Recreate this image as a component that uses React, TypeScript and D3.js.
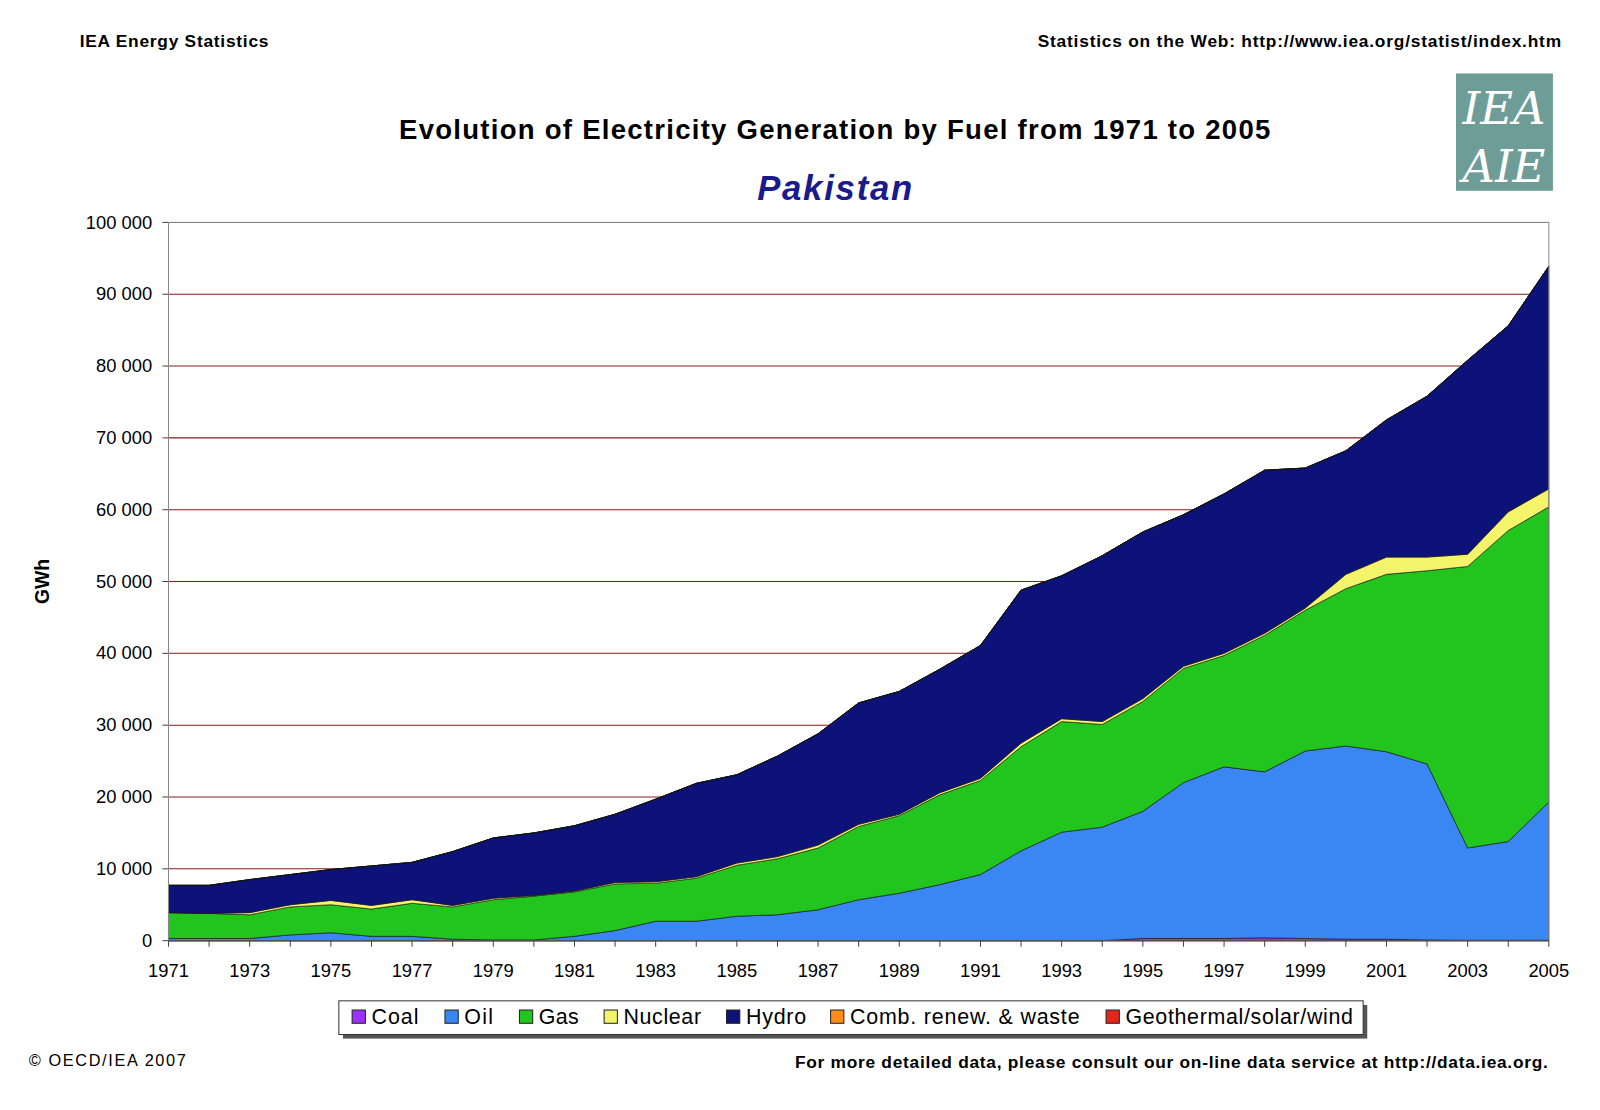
import React from "react";
import * as d3 from "d3";

const years = d3.range(1971, 2006);
const coal = [0,0,0,0,0,0,0,0,0,0,0,0,0,0,0,0,0,0,0,0,0,0,0,0,300,300,300,400,300,200,200,100,50,50,50];
const oil = [300,300,300,800,1100,600,600,200,100,100,600,1400,2700,2700,3400,3600,4300,5700,6600,7800,9200,12500,15100,15800,17700,21700,23900,23100,26100,26900,26100,24500,12850,13750,19250];
const gas = [3600,3500,3300,3900,3900,3800,4600,4500,5600,6100,6200,6500,5300,6000,7100,7800,8600,10200,10800,12500,13100,14500,15400,14300,15300,15900,15500,19000,19600,21900,24700,26900,39200,43300,41100];
const nuclear = [0,0,300,300,600,500,500,200,200,100,100,200,200,200,300,300,400,300,200,300,300,500,400,400,400,300,300,300,300,2000,2400,1900,1700,2600,2500];
const hydro = [3800,3900,4600,4200,4300,5500,5200,7500,8400,8700,9100,9500,11500,13000,12300,14000,15500,16900,17100,17200,18500,21300,19900,23100,23200,21100,22200,22700,19500,17200,19100,22400,27000,25900,31000];
const combRenew = years.map(() => 0);
const geoSolarWind = years.map(() => 0);

const seriesNames = ["Coal", "Oil", "Gas", "Nuclear", "Hydro", "Comb. renew. & waste", "Geothermal/solar/wind"];
const seriesValues = [coal, oil, gas, nuclear, hydro, combRenew, geoSolarWind];
const colors = ["#9b30ff", "#3a86f2", "#22c41e", "#f4f46a", "#0d1278", "#ff8c1a", "#e5261b"];
const yTicks = d3.range(0, 100001, 10000);
const xTicks = d3.range(1971, 2006, 2);

export default function App() {
  const W = 1600, H = 1110;
  const left = 165, right = 1518, top = 218, bottom = 922;
  const x = d3.scaleLinear().domain([1971, 2005]).range([left, right]);
  const y = d3.scaleLinear().domain([0, 100000]).range([bottom, top]);
  const table = years.map((yr, i) => {
    const row: any = { year: yr };
    seriesNames.forEach((n, k) => (row[n] = seriesValues[k][i]));
    return row;
  });
  const stacked = d3.stack<any>().keys(seriesNames)(table);
  const area = d3.area<any>().x(d => x(d.data.year)).y0(d => y(d[0])).y1(d => y(d[1]));
  const fmt = (v: number) => (v >= 1000 ? `${Math.floor(v / 1000)} ${String(v % 1000).padStart(3, "0")}` : String(v));
  const font = "Liberation Sans, Arial, sans-serif";
  const legendX = [345, 436, 509, 592, 712, 814, 1084];
  const legendW = [46, 28, 39, 76, 59, 225, 223];
  return (
    <svg width={W} height={H} viewBox="0 0 1568 1088" style={{ display: "block", margin: -8 }} fontFamily={font}>
      <rect width={1568} height={1088} fill="#fff" />
      <text x={78} y={46} fontSize={17} fontWeight="bold" textLength={185}>IEA Energy Statistics</text>
      <text x={1017} y={46} fontSize={17} fontWeight="bold" textLength={513}>Statistics on the Web: http://www.iea.org/statist/index.htm</text>
      <text x={818} y={136} fontSize={27} fontWeight="bold" textAnchor="middle" textLength={854}>Evolution of Electricity Generation by Fuel from 1971 to 2005</text>
      <text x={818} y={196} fontSize={34} fontWeight="bold" fontStyle="italic" fill="#1a1a8c" textAnchor="middle" textLength={152}>Pakistan</text>
      <g>
        <rect x={1427} y={72} width={95} height={115} fill="#6e9d97" />
        <text x={1474} y={122} fontSize={44} fill="#fff" textAnchor="middle" fontFamily="DejaVu Serif" fontStyle="italic">IEA</text>
        <text x={1474} y={178} fontSize={44} fill="#fff" textAnchor="middle" fontFamily="DejaVu Serif" fontStyle="italic">AIE</text>
      </g>
      {yTicks.map(t => (
        <g key={t}>
          <line x1={left} x2={right} y1={y(t)} y2={y(t)} stroke="#8b1a1a" strokeWidth={1} />
          <line x1={left - 6} x2={left} y1={y(t)} y2={y(t)} stroke="#444" />
          <text x={149} y={y(t) + 6} fontSize={18} textAnchor="end">{fmt(t)}</text>
        </g>
      ))}
      {stacked.map((s, k) => (
        <path key={s.key} d={area(s) || ""} fill={colors[k]} stroke="#111" strokeWidth={0.6} />
      ))}
      <rect x={left} y={top} width={right - left} height={bottom - top} fill="none" stroke="#888" />
      <line x1={left} x2={right} y1={bottom} y2={bottom} stroke="#444" />
      {years.map(yr => (
        <line key={yr} x1={x(yr)} x2={x(yr)} y1={bottom} y2={bottom + 6} stroke="#444" />
      ))}
      {xTicks.map(t => (
        <text key={t} x={x(t)} y={958} fontSize={18} textAnchor="middle">{t}</text>
      ))}
      <text transform="translate(48,570) rotate(-90)" fontSize={19} fontWeight="bold" textAnchor="middle">GWh</text>
      <rect x={336} y={985} width={1004} height={33} fill="#555" />
      <rect x={332} y={981} width={1004} height={33} fill="#fff" stroke="#333" />
      {seriesNames.map((n, k) => (
        <g key={n}>
          <rect x={legendX[k]} y={990} width={13} height={13} fill={colors[k]} stroke="#222" />
          <text x={legendX[k] + 19} y={1004} fontSize={21} textLength={legendW[k]}>{n}</text>
        </g>
      ))}
      <text x={28} y={1045} fontSize={16} textLength={154}>© OECD/IEA 2007</text>
      <text x={779} y={1047} fontSize={17} fontWeight="bold" textLength={738}>For more detailed data, please consult our on-line data service at http://data.iea.org.</text>
    </svg>
  );
}
